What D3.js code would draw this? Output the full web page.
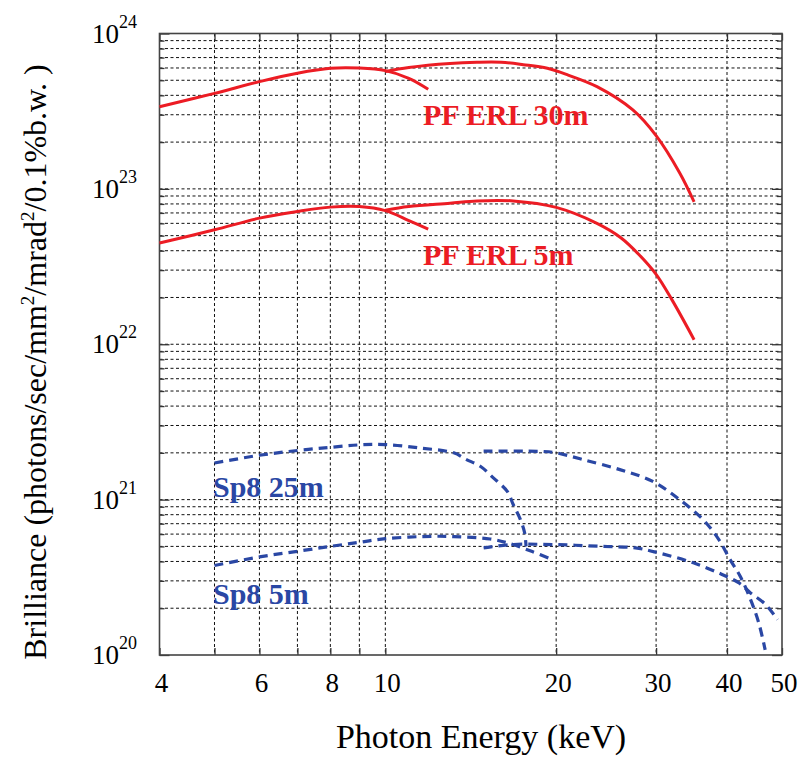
<!DOCTYPE html>
<html>
<head>
<meta charset="utf-8">
<title>Brilliance</title>
<script src="https://cdn.jsdelivr.net/npm/d3@7"></script>
<style>
  body { margin: 0; background: #fff; }
  text { font-family: "Times New Roman", "Liberation Serif", serif; }
</style>
</head>
<body>
<script>
// x ticks (keV) and y decades
var xTicks = [4, 5, 6, 7, 8, 9, 10, 20, 30, 40, 50];
var xLabels = [4, 6, 8, 10, 20, 30, 40, 50];
var yDecades = [20, 21, 22, 23, 24];

// PF ERL 30m, two branches
var pf30A_E = [4, 5, 6, 7, 8, 9, 10, 11, 11.9];
var pf30A_B = [3.38e23, 4.12e23, 4.9e23, 5.55e23, 5.97e23, 5.99e23, 5.77e23, 5.15e23, 4.38e23];
var pf30B_E = [10, 11, 13, 14.5, 16, 17.5, 19.3, 21, 23.6, 27.3, 30, 33, 35];
var pf30B_B = [5.7e23, 6.05e23, 6.42e23, 6.53e23, 6.53e23, 6.3e23, 5.97e23, 5.4e23, 4.55e23, 3.22e23, 2.2e23, 1.27e23, 8.25e22];

// PF ERL 5m
var pf5A_E = [4, 5, 6, 7, 8, 9, 10, 11, 11.9];
var pf5A_B = [4.48e22, 5.45e22, 6.48e22, 7.15e22, 7.63e22, 7.7e22, 7.25e22, 6.25e22, 5.5e22];
var pf5B_E = [10, 11, 13, 14.5, 16.8, 20, 23.6, 26, 28, 30, 32, 35];
var pf5B_B = [7.3e22, 7.7e22, 8.09e22, 8.37e22, 8.37e22, 7.6e22, 6.0e22, 4.85e22, 3.77e22, 2.82e22, 1.93e22, 1.07e22];

// Sp8 25m
var sp25A_E = [5, 6, 7, 8, 9, 10, 11.5, 13.2, 13.9, 14.7, 15.5, 16.4, 16.8, 17.3, 17.6, 17.7];
var sp25A_B = [1.72e21, 1.93e21, 2.07e21, 2.17e21, 2.25e21, 2.26e21, 2.15e21, 2.0e21, 1.81e21, 1.64e21, 1.38e21, 1.13e21, 9.3e20, 7.43e20, 6.1e20, 5.0e20];
var sp25B_E = [14.9, 19, 20, 22.3, 25.9, 29.6, 33, 36.3, 38.7, 40.5, 42.2, 44, 45.5, 46.7];
var sp25B_B = [2.05e21, 2.04e21, 2.0e21, 1.81e21, 1.56e21, 1.31e21, 1.0e21, 7.43e20, 5.53e20, 4.11e20, 3.21e20, 2.28e20, 1.61e20, 1.08e20];

// Sp8 5m
var sp5A_E = [5, 6, 7, 8, 9, 10, 12.2, 13.2, 15.3, 16.4, 18.1, 19.7];
var sp5A_B = [3.77e20, 4.28e20, 4.65e20, 5.0e20, 5.31e20, 5.61e20, 5.81e20, 5.78e20, 5.58e20, 5.27e20, 4.65e20, 4.11e20];
var sp5B_E = [14.9, 16.8, 19.7, 24.1, 27.6, 30.3, 34.9, 39.2, 42, 44, 46.8, 49.1];
var sp5B_B = [4.89e20, 5.14e20, 5.14e20, 5.0e20, 4.89e20, 4.54e20, 3.92e20, 3.3e20, 2.91e20, 2.51e20, 2.11e20, 1.69e20];

var red = "#ec1c24";
var blue = "#2a47a4";

var W = 803, H = 762;
// plot box (note: "top" is reserved on window, so use mTop)
var mLeft = 159.5, mTop = 33.5, w = 622.5, h = 621.5;

var svg = d3.select("body").append("svg")
    .attr("width", W)
    .attr("height", H);

var x = d3.scaleLog().domain([4, 50]).range([0, w]);
var y = d3.scaleLog().domain([1e20, 1e24]).range([h, 0]);

var g = svg.append("g").attr("transform", "translate(" + mLeft + "," + mTop + ")");

// minor y values 1..9 x each decade
var yMinor = [];
yDecades.slice(0, -1).forEach(function(d) {
  for (var k = 1; k < 10; k++) yMinor.push(k * Math.pow(10, d));
});

// grid (dotted)
g.append("g").selectAll("line")
  .data(yMinor.filter(function(v) { return v > 1e20; }))
  .enter().append("line")
  .attr("x1", 0).attr("x2", w)
  .attr("y1", function(d) { return y(d); })
  .attr("y2", function(d) { return y(d); })
  .attr("stroke", "#111").attr("stroke-width", 1)
  .attr("stroke-dasharray", "3,2.5");

g.append("g").selectAll("line")
  .data(xTicks.filter(function(v) { return v > 4 && v < 50; }))
  .enter().append("line")
  .attr("y1", 0).attr("y2", h)
  .attr("x1", function(d) { return x(d); })
  .attr("x2", function(d) { return x(d); })
  .attr("stroke", "#111").attr("stroke-width", 1)
  .attr("stroke-dasharray", "3,2.5");

// axes with inward ticks
var yMajorVals = yDecades.map(function(d) { return Math.pow(10, d); });
var yMinorVals = yMinor.filter(function(v) { return yMajorVals.indexOf(v) < 0; });

function noDomain(sel) { sel.select(".domain").remove(); sel.selectAll("text").remove(); }

g.append("g").call(d3.axisLeft(y).tickValues(yMajorVals).tickSizeInner(-10).tickSizeOuter(0)).call(noDomain);
g.append("g").call(d3.axisLeft(y).tickValues(yMinorVals).tickSizeInner(-5).tickSizeOuter(0)).call(noDomain);
g.append("g").attr("transform", "translate(" + w + ",0)")
  .call(d3.axisRight(y).tickValues(yMajorVals).tickSizeInner(-10).tickSizeOuter(0)).call(noDomain);
g.append("g").attr("transform", "translate(" + w + ",0)")
  .call(d3.axisRight(y).tickValues(yMinorVals).tickSizeInner(-5).tickSizeOuter(0)).call(noDomain);
g.append("g").attr("transform", "translate(0," + h + ")")
  .call(d3.axisBottom(x).tickValues(xTicks).tickSizeInner(-7).tickSizeOuter(0)).call(noDomain);
g.append("g")
  .call(d3.axisTop(x).tickValues(xTicks).tickSizeInner(-7).tickSizeOuter(0)).call(noDomain);
g.selectAll(".tick line").attr("stroke", "#333").attr("stroke-width", 1.3);

// frame
g.append("rect")
  .attr("width", w).attr("height", h)
  .attr("fill", "none").attr("stroke", "#444").attr("stroke-width", 1.6);

// curves
var line = d3.line()
  .x(function(d) { return x(d[0]); })
  .y(function(d) { return y(d[1]); })
  .curve(d3.curveCatmullRom.alpha(0.5));

function pts(es, bs) { return es.map(function(e, i) { return [e, bs[i]]; }); }

var series = [
  { d: pts(pf30A_E, pf30A_B), c: red, dash: null },
  { d: pts(pf30B_E, pf30B_B), c: red, dash: null },
  { d: pts(pf5A_E, pf5A_B), c: red, dash: null },
  { d: pts(pf5B_E, pf5B_B), c: red, dash: null },
  { d: pts(sp25A_E, sp25A_B), c: blue, dash: "9,6" },
  { d: pts(sp25B_E, sp25B_B), c: blue, dash: "9,6" },
  { d: pts(sp5A_E, sp5A_B), c: blue, dash: "9,6" },
  { d: pts(sp5B_E, sp5B_B), c: blue, dash: "9,6" }
];

g.selectAll("path.curve")
  .data(series)
  .enter().append("path")
  .attr("class", "curve")
  .attr("d", function(s) { return line(s.d); })
  .attr("fill", "none")
  .attr("stroke", function(s) { return s.c; })
  .attr("stroke-width", function(s) { return s.dash ? 3.2 : 3; })
  .attr("stroke-dasharray", function(s) { return s.dash; });

// curve labels
var labels = [
  { t: "PF ERL 30m", x: 423, y: 125, c: red },
  { t: "PF ERL 5m", x: 423, y: 265, c: red },
  { t: "Sp8 25m", x: 213, y: 497, c: blue },
  { t: "Sp8 5m", x: 213, y: 604, c: blue }
];
svg.selectAll("text.lbl")
  .data(labels)
  .enter().append("text")
  .attr("class", "lbl")
  .attr("x", function(d) { return d.x; })
  .attr("y", function(d) { return d.y; })
  .attr("fill", function(d) { return d.c; })
  .style("font-size", "30px")
  .style("font-weight", "bold")
  .text(function(d) { return d.t; });

// y tick labels 10^n
var yl = svg.selectAll("text.ylab")
  .data(yDecades)
  .enter().append("text")
  .attr("class", "ylab")
  .attr("x", 92)
  .attr("y", function(d) { return mTop + y(Math.pow(10, d)) + 9; })
  .style("font-size", "27px");
yl.append("tspan").text("10");
yl.append("tspan").attr("dy", -15).style("font-size", "18px").text(function(d) { return d; });

// x tick labels
svg.selectAll("text.xlab")
  .data(xLabels)
  .enter().append("text")
  .attr("class", "xlab")
  .attr("x", function(d) { return mLeft + x(d) + 2; })
  .attr("y", 692)
  .attr("text-anchor", "middle")
  .style("font-size", "27px")
  .text(function(d) { return d; });

// axis titles
svg.append("text")
  .attr("x", 481).attr("y", 748)
  .attr("text-anchor", "middle")
  .style("font-size", "34px")
  .text("Photon Energy (keV)");

var yt = svg.append("text")
  .attr("transform", "translate(46,362) rotate(-90)")
  .attr("text-anchor", "middle")
  .style("font-size", "32px");
yt.append("tspan").text("Brilliance (photons/sec/mm");
yt.append("tspan").attr("dy", -12).style("font-size", "19px").text("2");
yt.append("tspan").attr("dy", 12).text("/mrad");
yt.append("tspan").attr("dy", -12).style("font-size", "19px").text("2");
yt.append("tspan").attr("dy", 12).text("/0.1%b.w. )");
</script>
</body>
</html>
